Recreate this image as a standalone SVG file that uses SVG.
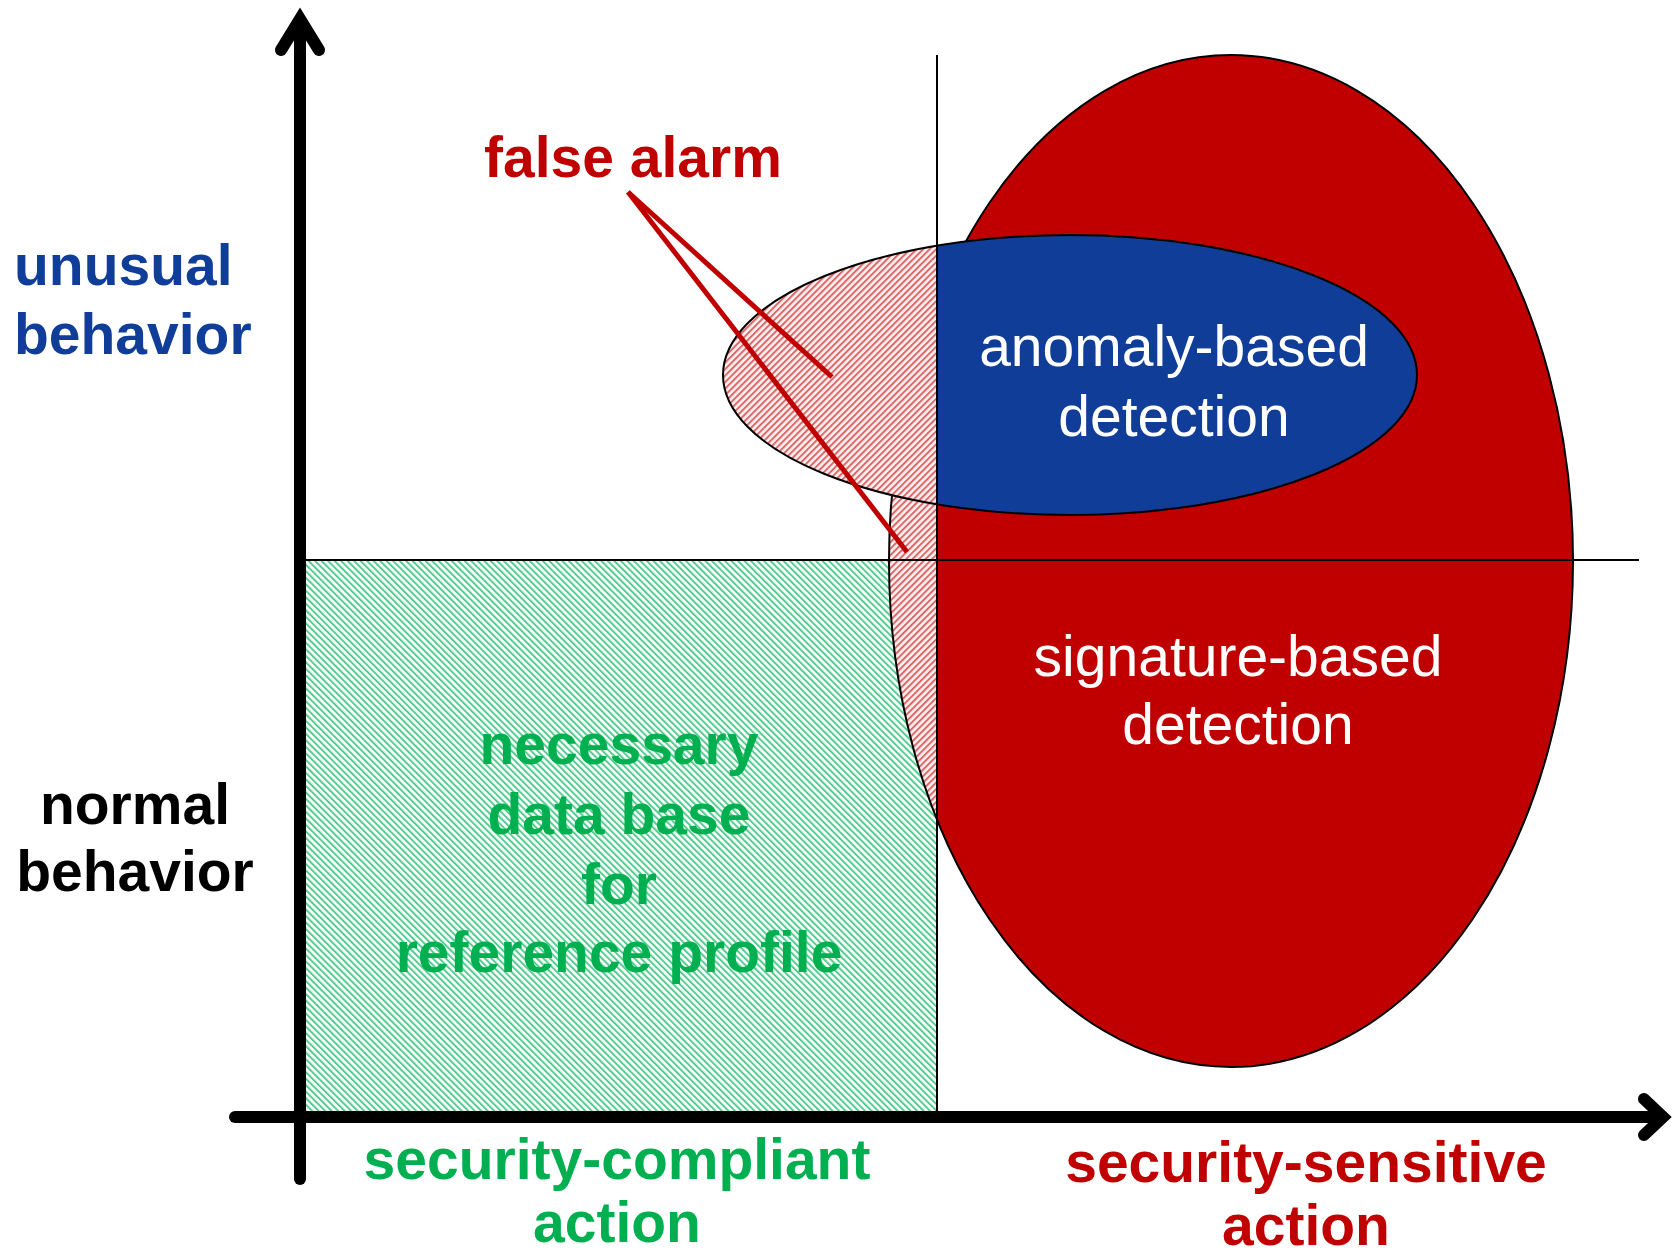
<svg xmlns="http://www.w3.org/2000/svg" width="1673" height="1254" viewBox="0 0 1673 1254">
<style>
text{font-family:"Liberation Sans",Arial,sans-serif;font-size:57px;text-anchor:middle}
.b{font-weight:bold}
.ax{fill:none;stroke:#000;stroke-width:12;stroke-linecap:round}
.thin{stroke:#000;stroke-width:2;fill:none}
</style>
<defs>
<pattern id="gh" patternUnits="userSpaceOnUse" width="4.6" height="20" patternTransform="rotate(-45)">
<rect width="4.6" height="20" fill="#ffffff"/>
<rect width="2" height="20" fill="#55cc90"/>
</pattern>
<pattern id="rh" patternUnits="userSpaceOnUse" width="4.6" height="20" patternTransform="rotate(45)">
<rect width="4.6" height="20" fill="#fcf0f0"/>
<rect width="2" height="20" fill="#da6a6a"/>
</pattern>
<clipPath id="cl"><rect x="0" y="0" width="937" height="1254"/></clipPath>
<clipPath id="cr"><rect x="937" y="0" width="736" height="1254"/></clipPath>
</defs>
<rect width="1673" height="1254" fill="#fff"/>
<g id="reference-profile">
<rect x="300" y="560" width="637" height="557" fill="url(#gh)"/>
<text class="b" fill="#00b050" x="619" y="764">necessary</text>
<text class="b" fill="#00b050" x="619" y="834">data base</text>
<text class="b" fill="#00b050" x="619" y="904">for</text>
<text class="b" fill="#00b050" x="619" y="972">reference profile</text>
</g>
<g id="signature-based">
<ellipse cx="1231" cy="561" rx="342" ry="506" fill="#c00000" clip-path="url(#cr)"/>
<ellipse cx="1231" cy="561" rx="342" ry="506" fill="url(#rh)" clip-path="url(#cl)"/>
<ellipse cx="1231" cy="561" rx="342" ry="506" class="thin"/>
<text fill="#fff" x="1238" y="676">signature-based</text>
<text fill="#fff" x="1238" y="744">detection</text>
</g>
<g id="anomaly-based">
<ellipse cx="1070" cy="375" rx="347" ry="140" fill="#0f3d98" clip-path="url(#cr)"/>
<ellipse cx="1070" cy="375" rx="347" ry="140" fill="url(#rh)" clip-path="url(#cl)"/>
<ellipse cx="1070" cy="375" rx="347" ry="140" class="thin"/>
<text fill="#fff" x="1174" y="366">anomaly-based</text>
<text fill="#fff" x="1174" y="436">detection</text>
</g>
<g id="connectors">
<line x1="937" y1="55" x2="937" y2="1117" class="thin"/>
<line x1="300" y1="560" x2="1639" y2="560" class="thin"/>
<line x1="628" y1="192" x2="832" y2="377" stroke="#c00000" stroke-width="5"/>
<line x1="628" y1="192" x2="907" y2="552" stroke="#c00000" stroke-width="5"/>
<line x1="300" y1="1179" x2="300" y2="22" class="ax"/>
<polyline points="281,50 300,19 319,50" class="ax" stroke-linejoin="miter"/>
<line x1="235" y1="1117" x2="1660" y2="1117" class="ax"/>
<polyline points="1644,1099 1663,1117 1644,1135" class="ax" stroke-linejoin="miter"/>
</g>
<g id="false-alarm"><text class="b" fill="#c00000" x="633" y="177">false alarm</text></g>
<g id="unusual-behavior">
<text class="b" fill="#0f3d98" x="14" y="285" style="text-anchor:start">unusual</text>
<text class="b" fill="#0f3d98" x="14" y="354" style="text-anchor:start">behavior</text>
</g>
<g id="normal-behavior">
<text class="b" fill="#000" x="135" y="824">normal</text>
<text class="b" fill="#000" x="135" y="891">behavior</text>
</g>
<g id="security-compliant">
<text class="b" fill="#00b050" x="617" y="1179">security-compliant</text>
<text class="b" fill="#00b050" x="617" y="1242">action</text>
</g>
<g id="security-sensitive">
<text class="b" fill="#c00000" x="1306" y="1182">security-sensitive</text>
<text class="b" fill="#c00000" x="1306" y="1245">action</text>
</g>
</svg>
